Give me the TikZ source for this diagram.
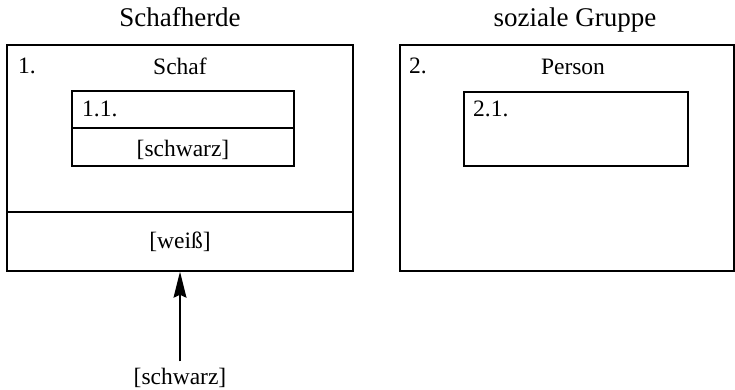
\documentclass[tikz,border=0pt]{standalone}
\usepackage{fontspec}
\setmainfont{Liberation Serif}
\usepackage{tikz}
\usetikzlibrary{arrows.meta}
\tikzstyle{Frame}=[draw,rectangle,line width=1.5pt,inner sep=0pt]
\tikzstyle{Edge}=[draw,line width=1.5pt]
\tikzstyle{Arrow}=[Edge,line width=1.2pt,-{Stealth[length=26pt,width=13pt,inset=3pt]}]
\tikzstyle{Title}=[anchor=base,font=\fontsize{27}{32}\selectfont]
\tikzstyle{Label}=[anchor=base,font=\fontsize{23.5}{28}\selectfont]
\tikzstyle{Num}=[Label,anchor=base west,inner sep=0pt]

\begin{document}
\begin{tikzpicture}[x=1pt,y=-1pt]
        \useasboundingbox(0,0)rectangle(735,390);
        % sheep side
        \node[Title](herdeT)at(180,27){Schafherde};
        \node[Frame,minimum width=346pt,minimum height=226pt](herde)at(180,158){};
        \draw[Edge](herde.west |- 0,212)--(herde.east |- 0,212);
        \node[Num](n1)at(18,74){1.};
        \node[Label](schaf)at(180,75){Schaf};
        \node[Frame,minimum width=222pt,minimum height=75pt](schafIn)at(183,128.5){};
        \draw[Edge](schafIn.west |- 0,128)--(schafIn.east |- 0,128);
        \node[Num](n11)at(82,117){1.1.};
        \node[Label](schwarzIn)at(183,157){[schwarz]};
        \node[Label](weiss)at(180,248){[weiß]};
        \node[Label,inner sep=0pt](schwarz)at(180,384){[schwarz]};
        \draw[Arrow,shorten <=6pt](schwarz.north)--(herde.south);
        % person side
        \node[Title](gruppeT)at(575,27){soziale Gruppe};
        \node[Frame,minimum width=334pt,minimum height=226pt](gruppe)at(567,158){};
        \node[Num](n2)at(409,74){2.};
        \node[Label](person)at(573,75){Person};
        \node[Frame,minimum width=224pt,minimum height=74pt](personIn)at(576,129){};
        \node[Num](n21)at(473,117){2.1.};
    \end{tikzpicture}
\end{document}
